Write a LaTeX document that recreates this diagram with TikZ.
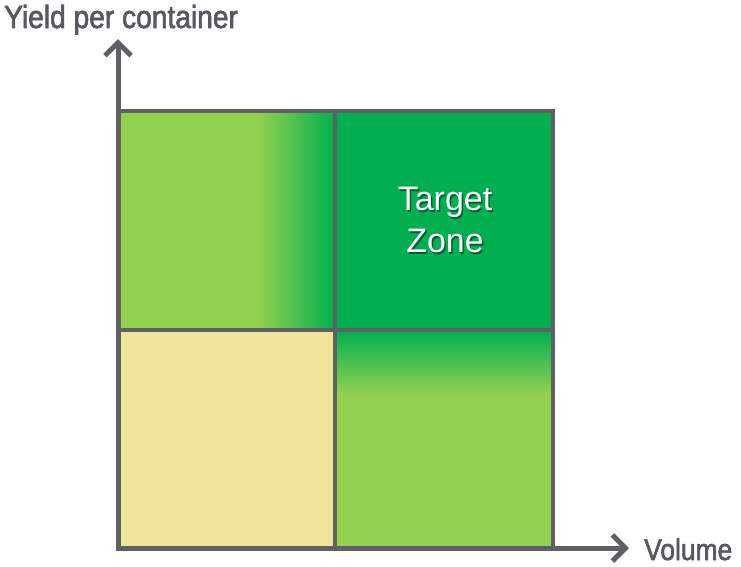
\documentclass[tikz,border=0pt]{standalone}
\usepackage{fontspec}
\setmainfont{Liberation Sans}
\newfontfamily\axisfont[FakeStretch=0.88,FakeBold=2]{Liberation Sans}
\usetikzlibrary{arrows.meta}
\definecolor{lgreen}{RGB}{146,208,80}
\definecolor{dgreen}{RGB}{0,176,80}
\definecolor{sand}{RGB}{240,227,154}
\definecolor{gridgrey}{RGB}{95,95,102}
\definecolor{txtgrey}{RGB}{88,88,94}
\tikzset{
  gridline/.style={draw=gridgrey, line width=4.5pt},
  axisline/.style={draw=gridgrey, line width=5pt, -{Straight Barb[length=13pt,width=26pt,line width=5pt]}},
  axislabel/.style={text=txtgrey, font=\axisfont\fontsize{32}{34}\selectfont, inner sep=0pt},
  zonetext/.style={font=\fontsize{34}{42}\selectfont, align=center, inner sep=0pt}
}
\begin{document}
\begin{tikzpicture}[x=1pt,y=-1pt]
\useasboundingbox (0,0) rectangle (741,566);
% quadrant fills
\fill[lgreen] (118,111) rectangle (335,330);
\shade[left color=lgreen, right color=dgreen] (258,111) rectangle (335,330);
\fill[dgreen] (335,111) rectangle (553,330);
\fill[sand] (118,330) rectangle (335,548);
\fill[lgreen] (335,330) rectangle (553,548);
\shade[top color=dgreen, bottom color=lgreen] (335,330) rectangle (553,394);
% grid
\coordinate (tl) at (118,111);
\coordinate (tr) at (553,111);
\coordinate (br) at (553,548);
\coordinate (mt) at (335,111);
\coordinate (mb) at (335,548);
\coordinate (ml) at (118,330);
\coordinate (mr) at (553,330);
\draw[gridline] (tl) -- (tr) -- (br);
\draw[gridline] (mt) -- (mb);
\draw[gridline] (ml) -- (mr);
% axes
\coordinate (origin) at (118,548);
\coordinate (ytip) at (118,39);
\coordinate (xtip) at (629,548);
\draw[axisline] ([yshift=2.5pt]origin) -- (ytip);
\draw[axisline] ([xshift=-2.5pt]origin) -- (xtip);
% labels
\node[axislabel, anchor=base west] (ylab) at (4,28) {Yield per container};
\node[axislabel, anchor=base west] (xlab) at (644,560) {\fontsize{30}{32}\selectfont Volume};
\node[zonetext, text=black, opacity=0.45] (zshadow) at (446.5,221.5) {Target\\Zone};
\node[zonetext, text=white] (zone) at (445,220) {Target\\Zone};
\end{tikzpicture}
\end{document}
